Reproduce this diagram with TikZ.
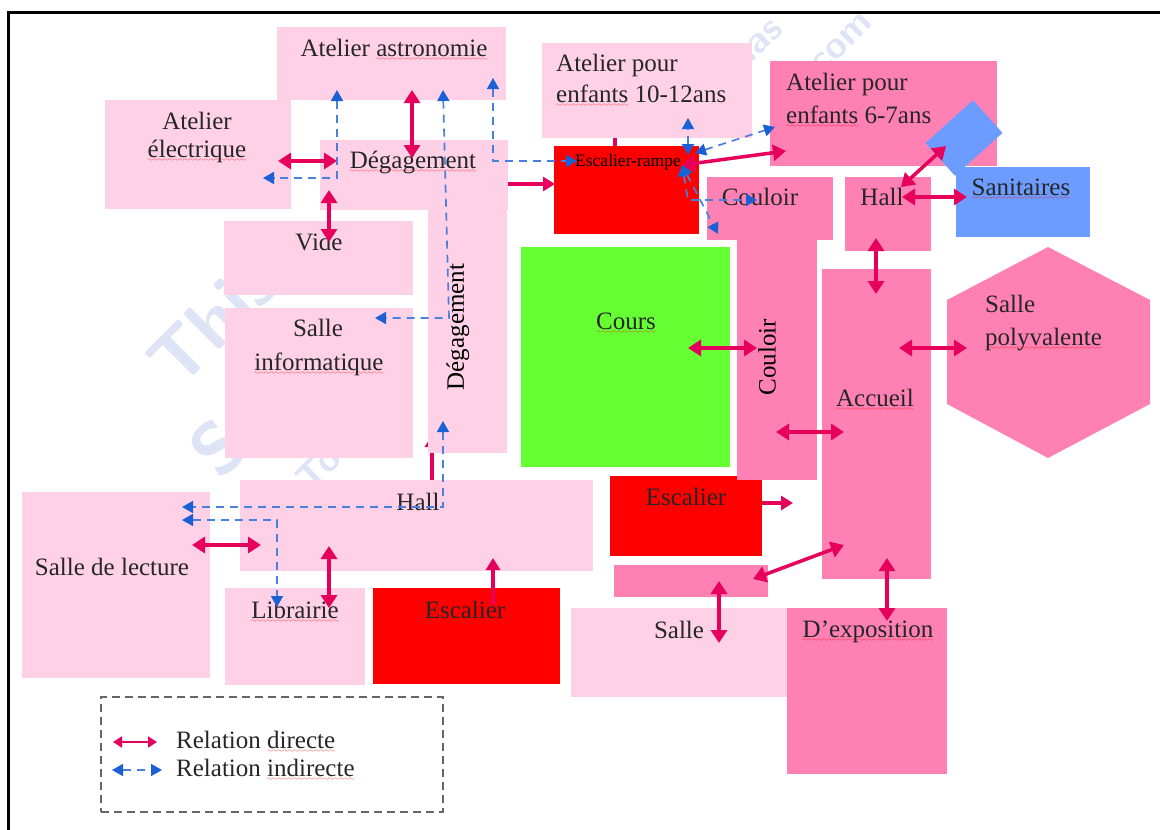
\documentclass[tikz,border=0pt]{standalone}
\usepackage{fontspec}
\setmainfont{Liberation Serif}
\usepackage{xcolor}
\usetikzlibrary{arrows.meta, positioning, calc}
\definecolor{palepink}{RGB}{255,209,230}
\definecolor{hotpink}{RGB}{255,128,179}
\definecolor{redroom}{RGB}{255,0,0}
\definecolor{greenroom}{RGB}{102,255,51}
\definecolor{blueroom}{RGB}{108,156,255}
\definecolor{direct}{RGB}{230,0,92}
\definecolor{indirect}{RGB}{28,96,214}
\definecolor{watermark}{RGB}{222,228,245}
\font\wavefont=lasy6
\newcommand{\spell}[1]{\setbox0\hbox{#1}\rlap{\lower4pt\hbox to\wd0{\color{red}\xleaders\hbox{\wavefont\char58}\hfil}}\box0 }
\tikzset{
  room/.style={inner sep=0pt, outer sep=0pt, rectangle},
  lab/.style={inner sep=0pt, font=\fontsize{25}{28}\selectfont, text=black!85},
  markbig/.style={watermark, rotate=45, font=\fontsize{74}{74}\selectfont\sffamily\bfseries},
  marksmall/.style={watermark, rotate=45, font=\fontsize{38}{38}\selectfont\sffamily\bfseries},
  dirarrow/.style={draw=direct, line width=3.5pt, {Triangle[length=13pt,width=16pt]}-{Triangle[length=13pt,width=16pt]}},
  dirsingle/.style={draw=direct, line width=3.5pt, -{Triangle[length=12pt,width=14pt]}},
  indarrow/.style={draw=indirect!80, line width=1.7pt, dash pattern=on 8pt off 6pt, {Triangle[length=11pt,width=12pt,color=indirect]}-{Triangle[length=11pt,width=12pt,color=indirect]}}
}
\begin{document}
\begin{tikzpicture}[x=1pt, y=-1pt]
  \useasboundingbox (0,0) rectangle (1160,830);
  % Watermark
  \node[markbig] (markthis) at (212,322) {This};
  \node[markbig] (marks) at (218,447) {S};
  \node[marksmall] (markto) at (318,468) {To};
  \node[marksmall] (markhas) at (755,42) {has};
  \node[marksmall] (markcom) at (838,48) {.com};
  \draw[line width=3pt] (8,830) -- (8,12) -- (1160,12);
  % Arrows under the rooms
  \foreach \n/\xa/\ya/\xb/\yb in {hallup/432/482/432/435, depsc/500/184/555/184, escup/615/130/615/160} {
    \coordinate (\n a) at (\xa,\ya);
    \coordinate (\n b) at (\xb,\yb);
    \draw[dirsingle] (\n a) -- (\n b);
  }
  % Rooms
  \foreach \n/\xa/\ya/\xb/\yb/\s in {
    astro/277/27/506/100/palepink, elec/105/100/291/209/palepink,
    deghor/320/140/508/210/palepink, vide/224/221/413/295/palepink,
    info/225/308/413/458/palepink, degver/428/210/507/453/palepink,
    hallbas/240/480/593/571/palepink, lecture/22/492/210/678/palepink,
    librairie/225/588/365/685/palepink, escbas/373/588/560/684/redroom,
    grands/542/43/752/138/palepink, petits/770/61/997/166/hotpink,
    rampe/554/146/699/234/redroom, escmid/610/476/762/556/redroom,
    coulver/737/240/817/480/hotpink, coulhor/707/177/833/240/hotpink,
    hallhaut/845/177/931/251/hotpink, cours/521/247/730/467/greenroom,
    accueil/822/269/931/579/hotpink, strip/614/565/768/597/hotpink,
    salle/571/608/787/697/palepink, expo/787/608/947/774/hotpink} {
    \node[room, fill=\s, minimum width={\xb-\xa}, minimum height={\yb-\ya}] (\n) at ({(\xa+\xb)/2},{(\ya+\yb)/2}) {};
  }
  \node[room, fill=blueroom, rotate=42, minimum width=64, minimum height=44] (biais) at (964,138) {};
  \node[room, fill=blueroom, minimum width=134, minimum height=70] (sanit) at (1023,202) {};
  \fill[hotpink] (1048,247) -- (1150,300) -- (1150,404) -- (1048,458) -- (947,404) -- (947,300) -- cycle;
  % Labels
  \node[lab] (lastro) at (394,50) {Atelier \spell{astronomie}};
  \node[lab] (lelec) at (197,121) {Atelier};
  \node[lab] (lelecb) at (197,151.5) {\spell{électrique}};
  \node[lab] (ldeg) at (413,162.5) {\spell{Dégagement}};
  \node[lab] (lvide) at (319,242) {Vide};
  \node[lab] (linfo) at (318,328) {Salle};
  \node[lab] (linfob) at (319,364) {\spell{informatique}};
  \node[lab, rotate=90, text=black] (ldegv) at (458,327) {Dégagement};
  \node[lab, anchor=west] (lgrands) at (556,65) {Atelier pour};
  \node[lab, anchor=west] (lgrandsb) at (556,95.5) {\spell{enfants} 10-12ans};
  \node[lab, anchor=west] (lpetits) at (786,84) {Atelier pour};
  \node[lab, anchor=west] (lpetitsb) at (786,116.5) {\spell{enfants} 6-7ans};
  \node[lab, font=\fontsize{17.5}{20}\selectfont, text=black] (lrampe) at (628,162) {Escalier-rampe};
  \node[lab] (lcoulh) at (760,197) {Couloir};
  \node[lab] (lhallh) at (882,197) {Hall};
  \node[lab] (lsanit) at (1021,189) {\spell{Sanitaires}};
  \node[lab] (lcours) at (626,323) {\spell{Cours}};
  \node[lab, rotate=90, text=black] (lcoulv) at (767,357) {Couloir};
  \node[lab] (laccueil) at (875,400) {\spell{Accueil}};
  \node[lab, anchor=west] (lpoly) at (985,304) {Salle};
  \node[lab, anchor=west] (lpolyb) at (985,339.5) {\spell{polyvalente}};
  \node[lab] (lescm) at (686,497) {Escalier};
  \node[lab] (lhallb) at (418,502) {Hall};
  \node[lab] (llect) at (112,567) {Salle de lecture};
  \node[lab] (llib) at (295,612) {\spell{Librairie}};
  \node[lab] (lescb) at (465,610) {Escalier};
  \node[lab] (lsalle) at (679,630) {Salle};
  \node[lab] (lexpo) at (868,631.5) {\spell{D’exposition}};
  % Relation directe
  \foreach \n/\xa/\ya/\xb/\yb in {
    elecdeg/278/161/337/161, astrodeg/412/90/412/158, degvide/329/190/329/242,
    rampepetit/682/165/786/151, biaishall/946/146/901/187, hallsanit/902/197/967/197,
    hallaccueil/876/238/876/294, courscoul/688/348/757/348, accpoly/899/348/967/348,
    coulacc/776/432/844/432, stripacc/753/579/844/545, stripsalle/719/581/719/643,
    accexpo/887/558/887/621, lecthall/192/545/261/545, halllib/329/546/329/608} {
    \coordinate (\n a) at (\xa,\ya);
    \coordinate (\n b) at (\xb,\yb);
    \draw[dirarrow] (\n a) -- (\n b);
  }
  \foreach \n/\xa/\ya/\xb/\yb in {escsort/762/503/793/503, halldown/493/605/493/558} {
    \coordinate (\n a) at (\xa,\ya);
    \coordinate (\n b) at (\xb,\yb);
    \draw[dirsingle] (\n a) -- (\n b);
  }
  % Relation indirecte
  \foreach \n/\xa/\ya/\xc/\yc/\xb/\yb in {
    astroelec/337/90/337/178/263/178, astroinfo/443/90/449/318/375/318,
    astrorampe/493/78/493/161/577/161, rampecoul/682/165/688/200/757/200,
    deghall/443/421/443/507/182/507, lectlib/182/520/277/520/277/607} {
    \coordinate (\n a) at (\xa,\ya);
    \coordinate (\n c) at (\xc,\yc);
    \coordinate (\n b) at (\xb,\yb);
    \draw[indarrow] (\n a) -- (\n c) -- (\n b);
  }
  \foreach \n/\xa/\ya/\xb/\yb in {
    rampegrand/688/155/688/118, rampepet/695/153/775/127, rampebas/682/165/718/234} {
    \coordinate (\n a) at (\xa,\ya);
    \coordinate (\n b) at (\xb,\yb);
    \draw[indarrow] (\n a) -- (\n b);
  }
  % Legend
  \node[room, draw=black!60, line width=2.2pt, dash pattern=on 8pt off 5pt, minimum width=342, minimum height=115] (legende) at (272,754.5) {};
  \coordinate (legdirl) at (113,742);
  \coordinate (legdirr) at (157,742);
  \coordinate (legindl) at (112,770);
  \coordinate (legindr) at (162,770);
  \draw[draw=direct, line width=2pt, {Triangle[length=9pt,width=11pt]}-{Triangle[length=9pt,width=11pt]}] (legdirl) -- (legdirr);
  \draw[indarrow] (legindl) -- (legindr);
  \node[lab, anchor=west] (ldir) at (176,742) {Relation \spell{directe}};
  \node[lab, anchor=west] (lind) at (176,770) {Relation \spell{indirecte}};
\end{tikzpicture}
\end{document}
